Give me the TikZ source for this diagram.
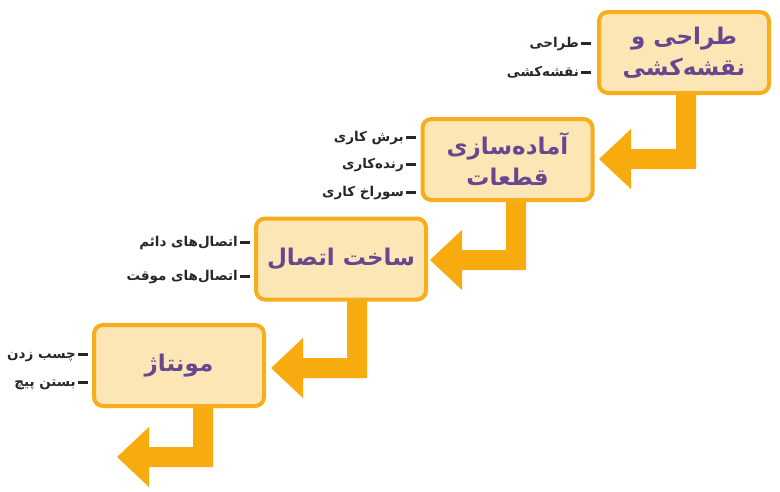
\documentclass[tikz,border=0pt]{standalone}
\usepackage{fontspec}
\TeXXeTstate=1
\newfontfamily\arabicfont[Script=Arabic]{DejaVu Sans}
\definecolor{boxfill}{HTML}{FDE6B6}
\definecolor{boxline}{HTML}{F8AE1A}
\definecolor{arrowc}{HTML}{F7AB0E}
\definecolor{titlec}{HTML}{67488F}
\definecolor{labelc}{HTML}{2B2622}
\tikzset{
  box/.style={draw=boxline, fill=boxfill, line width=4pt, rounded corners=9pt,
    minimum width=170pt, minimum height=81pt, inner sep=0pt, align=center,
    text=titlec, font=\arabicfont\bfseries\fontsize{23}{34}\selectfont},
  lab/.style={anchor=base east, inner sep=0pt, text=labelc,
    font=\arabicfont\bfseries\fontsize{13.5}{15}\selectfont},
  dashline/.style={draw=labelc, line width=2.2pt},
  stairarrow/.style={fill=arrowc}
}
\newcommand\stair[4]{% #1 stem left x, #2 top y, #3 bar top y, #4 tip x
  \fill[stairarrow] (#1,#2) -- ({#1+20},#2) -- ({#1+20},{#3+20}) -- ({#4+32},{#3+20})
    -- ({#4+32},{#3+40}) -- (#4,{#3+10}) -- ({#4+32},{#3-20}) -- ({#4+32},#3)
    -- (#1,#3) -- cycle;}
\begin{document}
\begin{tikzpicture}[x=1pt,y=-1pt]
\useasboundingbox (0,0) rectangle (780,491);
% arrows (behind boxes)
\stair{676}{90}{149}{599}
\stair{506}{197}{250}{430}
\stair{347}{297}{358}{271}
\stair{193}{403}{447}{117}
% boxes
\node[box] (b1) at (684,52.5) {\beginR طراحی و\endR\\[-3pt]\beginR نقشه‌کشی\endR};
\node[box] (b2) at (507.5,159.5) {\beginR آماده‌سازی\endR\\[-3pt]\beginR قطعات\endR};
\node[box] (b3) at (341,259) {\beginR ساخت اتصال\endR};
\node[box] (b4) at (179,365.5) {\beginR مونتاژ\endR};
% labels
\node[lab] (l11) at (579,47) {\beginR طراحی\endR};
\node[lab] (l12) at (579,76) {\beginR نقشه‌کشی\endR};
\node[lab] (l21) at (404,141) {\beginR برش کاری\endR};
\node[lab] (l22) at (404,168) {\beginR رنده‌کاری\endR};
\node[lab] (l23) at (404,196) {\beginR سوراخ کاری\endR};
\node[lab] (l31) at (238,246) {\beginR اتصال‌های دائم\endR};
\node[lab] (l32) at (238,280) {\beginR اتصال‌های موقت\endR};
\node[lab] (l41) at (76,358) {\beginR چسب زدن\endR};
\node[lab] (l42) at (76,386) {\beginR بستن پیچ\endR};
% dashes
\foreach \l in {l11,l12,l21,l22,l23,l31,l32,l41,l42}{
  \draw[dashline] ([xshift=2pt,yshift=3.5pt]\l.base east) -- ++(10,0);
}
\end{tikzpicture}
\end{document}
